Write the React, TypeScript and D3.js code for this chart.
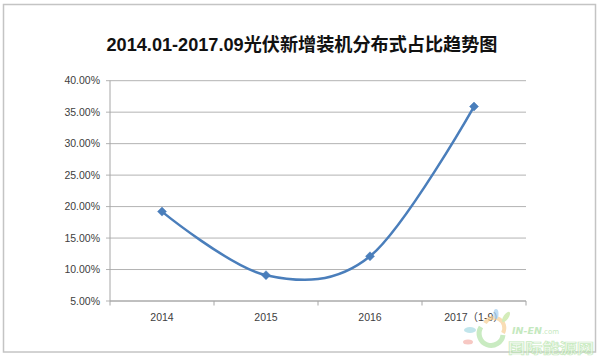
import React from "react";
import * as d3 from "d3";

const TITLE = "2014.01-2017.09光伏新增装机分布式占比趋势图";
const categories = ["2014", "2015", "2016", "2017（1-9）"];
const shares = [0.192, 0.091, 0.121, 0.359];
const yTicks = [0.05, 0.1, 0.15, 0.2, 0.25, 0.3, 0.35, 0.4];

const W = 600;
const H = 359;

export default function App() {
  React.useEffect(() => {
    document.body.style.margin = "0";
  }, []);

  const x = d3.scaleBand<string>().domain(categories).range([110, 526]);
  const y = d3.scaleLinear().domain([0.05, 0.4]).range([301, 80.7]);
  const fmt = d3.format(".2%");

  const pts: [number, number][] = categories.map((c, i) => [
    (x(c) as number) + x.bandwidth() / 2,
    y(shares[i]),
  ]);
  const line = d3.line().curve(d3.curveCardinal.tension(0));
  const pathD = line(pts) || "";

  const labelFont = "'Liberation Sans', 'Noto Sans CJK SC', sans-serif";
  const boundaries = [...categories.map((c) => x(c) as number), 526];

  return (
    <svg
      width={W}
      height={H}
      style={{ position: "absolute", left: 0, top: 0, display: "block", background: "#fff" }}
    >
      <rect x={0} y={0} width={W} height={H} fill="#fff" />
      <rect x={3.5} y={4.5} width={592} height={347.5} fill="#fff" stroke="#c4c4c4" strokeWidth={1.5} />

      <text
        x={106.5}
        y={51}
        fontSize={18.5}
        fontWeight="bold"
        fontFamily={labelFont}
        fill="#111"
        textLength={391}
        lengthAdjust="spacingAndGlyphs"
      >
        {TITLE}
      </text>

      {/* gridlines */}
      {yTicks.map((t) => (
        <g key={t}>
          <line x1={106} x2={526} y1={y(t)} y2={y(t)} stroke="#b3b3b3" strokeWidth={1} />
          <text
            x={100}
            y={y(t)}
            dy="0.35em"
            textAnchor="end"
            fontSize={10.5}
            fontFamily={labelFont}
            fill="#404040"
          >
            {fmt(t)}
          </text>
        </g>
      ))}

      {/* y axis */}
      <line x1={110} x2={110} y1={y(0.4)} y2={y(0.05)} stroke="#a6a6a6" strokeWidth={1} />
      {/* x axis */}
      <line x1={110} x2={526} y1={y(0.05)} y2={y(0.05)} stroke="#a6a6a6" strokeWidth={1} />
      {boundaries.map((b, i) => (
        <line key={i} x1={b} x2={b} y1={y(0.05)} y2={y(0.05) + 4.5} stroke="#a6a6a6" strokeWidth={1} />
      ))}
      {categories.map((c) => (
        <text
          key={c}
          x={(x(c) as number) + x.bandwidth() / 2}
          y={317.7}
          dy="0.35em"
          textAnchor="middle"
          fontSize={10.5}
          fontFamily={labelFont}
          fill="#404040"
        >
          {c}
        </text>
      ))}

      {/* series */}
      <path d={pathD} fill="none" stroke="#4a7ebb" strokeWidth={2.5} strokeLinejoin="round" />
      {pts.map(([px, py], i) => (
        <path
          key={i}
          d={`M${px},${py - 4.5}L${px + 4.5},${py}L${px},${py + 4.5}L${px - 4.5},${py}Z`}
          fill="#4a7ebb"
          stroke="#4a7ebb"
          strokeWidth={0.5}
        />
      ))}

      {/* watermark */}
      <g opacity={0.7}>
        <path d="M481,327 A12,12 0 1 0 503,335" fill="none" stroke="#b3e3a8" strokeWidth={5} />
        <path d="M485,323 A10,10 0 0 1 503,333" fill="none" stroke="#f7cf95" strokeWidth={4} />
        <ellipse cx={470} cy={330} rx={6} ry={3} fill="#a8dbe3" />
        <ellipse cx={468} cy={342} rx={5} ry={2.5} fill="#f4b2aa" />
        <ellipse cx={496} cy={314} rx={2.5} ry={5} fill="#a6cff0" />
        <ellipse cx={506} cy={317} rx={2.5} ry={6} transform="rotate(35 506 317)" fill="#c2e49c" />
        <text x={512} y={334} fontFamily="'DejaVu Sans', sans-serif" fill="#ace0a4">
          <tspan fontSize={9.5} fontWeight="bold" fontStyle="italic">IN-EN</tspan>
          <tspan fontSize={7}>.com</tspan>
        </text>
        <text
          x={508}
          y={352.5}
          fontSize={13.5}
          fontWeight="bold"
          fontFamily="'Noto Sans CJK SC', sans-serif"
          fill="#f3faf1"
          stroke="#b3e3a8"
          strokeWidth={0.7}
          textLength={86}
          lengthAdjust="spacingAndGlyphs"
        >
          国际能源网
        </text>
      </g>
    </svg>
  );
}
